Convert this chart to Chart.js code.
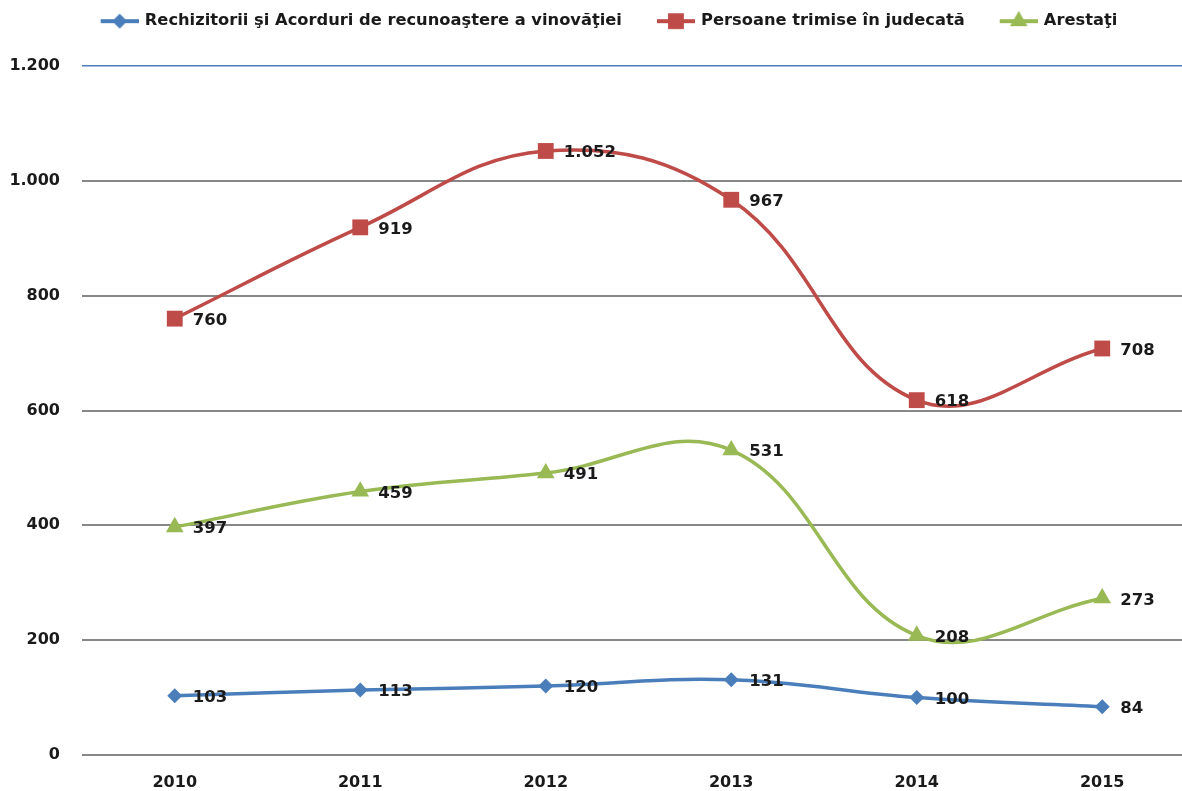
<!DOCTYPE html>
<html><head><meta charset="utf-8">
<script src="https://cdn.jsdelivr.net/npm/chart.js@4.4.1/dist/chart.umd.min.js"></script>
<style>html,body{margin:0;padding:0;background:#fff;overflow:hidden}#wrap{width:1182px;height:791px;position:relative}</style>
</head><body><div id="wrap"><canvas id="c"></canvas></div>
<script>
const years = [2010, 2011, 2012, 2013, 2014, 2015];
const rechizitorii = [103, 113, 120, 131, 100, 84];
const trimiseJudecata = [760, 919, 1052, 967, 618, 708];
const arestati = [397, 459, 491, 531, 208, 273];
const yTicks = [0, 200, 400, 600, 800, 1000, 1200];
const seriesNames = ['Rechizitorii şi Acorduri de recunoaştere a vinovăţiei', 'Persoane trimise în judecată', 'Arestaţi'];

const FONT = '"DejaVu Sans", sans-serif';
const colors = ['#4a7ebb', '#be4b48', '#98b954'];
const styles = ['rectRot', 'rect', 'triangle'];
const radii = [7.5, 11.2, 10.2];

function fmt(v) {
  return v >= 1000 ? Math.floor(v / 1000) + '.' + String(v % 1000).padStart(3, '0') : String(v);
}
function legendIcon(i) {
  const c = document.createElement('canvas');
  c.width = 62; c.height = 24;
  const x = c.getContext('2d');
  x.strokeStyle = colors[i]; x.lineWidth = 4;
  x.beginPath(); x.moveTo(24, 12); x.lineTo(62, 12); x.stroke();
  x.fillStyle = colors[i];
  Chart.helpers.drawPoint(x, {pointStyle: styles[i], radius: radii[i], rotation: 0, borderWidth: 0}, 43, 12);
  return c;
}
const seriesValues = [rechizitorii, trimiseJudecata, arestati];

const legendSpace = {
  id: 'legendSpace',
  beforeUpdate(chart) {
    const lg = chart.legend;
    if (lg && !lg._patched) {
      const f = lg.fit;
      lg.fit = function () { f.call(this); this.height = 66; };
      lg._patched = true;
    }
  },
  afterLayout(chart) {
    if (chart.legend) { chart.legend.left = 14; }
  }
};
const valueLabels = {
  id: 'valueLabels',
  afterDatasetsDraw(chart) {
    const ctx = chart.ctx;
    ctx.save();
    ctx.font = 'bold 16.5px ' + FONT;
    ctx.fillStyle = '#1a1a1a';
    ctx.textAlign = 'left';
    ctx.textBaseline = 'middle';
    chart.data.datasets.forEach((ds, i) => {
      chart.getDatasetMeta(i).data.forEach((pt, j) => {
        ctx.fillText(fmt(ds.data[j].y), pt.x + 18, pt.y + 2);
      });
    });
    ctx.restore();
  }
};

new Chart(document.getElementById('c'), {
  type: 'line',
  data: {
    datasets: seriesValues.map((arr, i) => ({
      label: seriesNames[i],
      data: years.map((y, j) => ({x: y, y: arr[j]})),
      borderColor: colors[i],
      backgroundColor: colors[i],
      borderWidth: 3.5,
      tension: 0.4,
      pointStyle: styles[i],
      pointRadius: radii[i],
      pointBorderWidth: 0,
      pointBackgroundColor: colors[i],
      fill: false
    }))
  },
  options: {
    responsive: true,
    maintainAspectRatio: false,
    animation: false,
    layout: {autoPadding: false, padding: {left: 0, right: 0, top: 0, bottom: 0}},
    plugins: {
      tooltip: {enabled: false},
      legend: {
        position: 'top',
        labels: {
          usePointStyle: true,
          pointStyleWidth: 58,
          padding: 13,
          color: '#1a1a1a',
          font: {family: FONT, size: 16.3, weight: 'bold'},
          generateLabels: (chart) => chart.data.datasets.map((ds, i) => ({
            text: ds.label,
            pointStyle: legendIcon(i),
            fillStyle: colors[i],
            strokeStyle: colors[i],
            lineWidth: 0,
            hidden: false,
            datasetIndex: i,
            fontColor: '#1a1a1a'
          }))
        }
      }
    },
    scales: {
      x: {
        type: 'linear',
        min: 2009.5,
        max: 2015.43,
        afterBuildTicks: (s) => { s.ticks = years.map(v => ({value: v})); },
        afterFit: (s) => { s.height = 36; },
        grid: {display: false},
        border: {display: false},
        ticks: {
          padding: 10,
          color: '#1a1a1a',
          font: {family: FONT, size: 16, weight: 'bold'},
          callback: (v) => String(v),
          maxRotation: 0,
          autoSkip: false
        }
      },
      y: {
        min: 0,
        max: 1200,
        afterBuildTicks: (s) => { s.ticks = yTicks.map(v => ({value: v})); },
        afterFit: (s) => { s.width = 82; },
        grid: {
          drawTicks: false,
          color: (c) => (c.tick && c.tick.value === 1200) ? '#4a7ebb' : '#878787',
          lineWidth: (c) => (c.tick && c.tick.value === 1200) ? 1.5 : 2
        },
        border: {display: false},
        ticks: {
          padding: 22,
          color: '#1a1a1a',
          font: {family: FONT, size: 16, weight: 'bold'},
          callback: (v) => fmt(v)
        }
      }
    }
  },
  plugins: [legendSpace, valueLabels]
});
</script>
</body></html>
